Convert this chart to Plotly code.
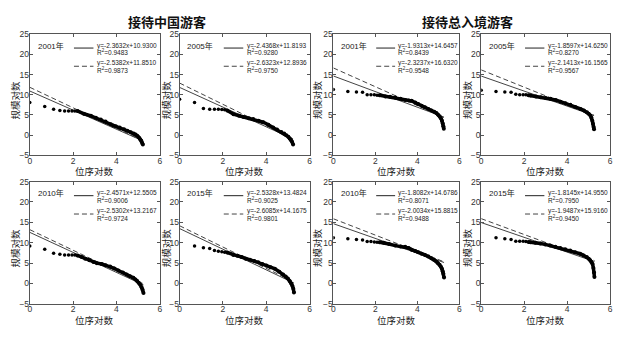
import plotly.graph_objects as go
from plotly.subplots import make_subplots

# ---------------- data ----------------
titles = ["接待中国游客", "接待总入境游客"]
years = ["2001年", "2005年", "2001年", "2005年", "2010年", "2015年", "2010年", "2015年"]

# sparse leading points (x = 位序对数, y = 规模对数)
p1_sx = [0, 0.69, 1.1, 1.39, 1.61, 1.79, 1.95, 2.08]
p1_sy = [8.1, 7.1, 6.4, 6.1, 6.0, 6.0, 6.0, 6.0]
p1_dx = [2.2, 2.5, 2.82, 3.05, 3.28, 3.5, 3.74, 3.85, 3.97, 4.15, 4.35, 4.5, 4.66, 4.8, 4.89, 4.97, 5.04, 5.1, 5.15, 5.19, 5.22]
p1_dy = [6.0, 5.3, 4.8, 4.3, 3.9, 3.4, 2.7, 2.4, 2.2, 1.9, 1.5, 1.1, 0.7, 0.4, 0.15, -0.2, -0.6, -1.0, -1.4, -1.9, -2.3]

p2_sx = [0, 0.69, 1.1, 1.39, 1.61, 1.79, 1.95, 2.08]
p2_sy = [8.9, 8.1, 6.6, 6.4, 6.4, 6.4, 6.35, 6.3]
p2_dx = [2.2, 2.49, 2.75, 2.95, 3.2, 3.4, 3.65, 3.86, 4.1, 4.32, 4.5, 4.7, 4.83, 4.93, 5.02, 5.08, 5.14, 5.19, 5.24]
p2_dy = [6.1, 5.2, 4.8, 4.5, 4.2, 4.0, 3.6, 3.2, 2.6, 1.9, 1.4, 0.8, 0.4, 0.0, -0.4, -0.8, -1.2, -1.6, -2.3]

p3_sx = [0, 0.69, 1.1, 1.39, 1.61, 1.79, 1.95, 2.08]
p3_sy = [11.3, 10.8, 10.7, 10.6, 10.0, 10.0, 10.0, 9.9]
p3_dx = [2.2, 2.48, 2.7, 2.95, 3.2, 3.42, 3.6, 3.73, 3.9, 4.04, 4.2, 4.36, 4.52, 4.67, 4.8, 4.9, 4.98, 5.06, 5.12, 5.17, 5.21, 5.24, 5.26]
p3_dy = [9.9, 9.6, 9.5, 9.3, 9.0, 8.7, 8.6, 8.5, 8.1, 7.7, 7.3, 6.9, 6.5, 6.1, 5.8, 5.5, 5.1, 4.7, 4.2, 3.6, 2.9, 2.2, 1.6]

p4_sx = [0, 0.69, 1.1, 1.39, 1.61, 1.79, 1.95, 2.08]
p4_sy = [11.1, 10.8, 10.7, 10.6, 10.1, 10.0, 10.0, 10.0]
p4_dx = [2.2, 2.3, 2.55, 2.77, 3.0, 3.23, 3.46, 3.69, 3.92, 4.15, 4.38, 4.62, 4.78, 4.92, 5.0, 5.08, 5.13, 5.17, 5.2, 5.23, 5.25]
p4_dy = [9.9, 9.8, 9.6, 9.4, 9.2, 9.0, 8.7, 8.3, 7.9, 7.5, 7.0, 6.5, 6.1, 5.7, 5.3, 4.9, 4.3, 3.6, 2.8, 2.0, 1.5]

p5_sx = [0, 0.69, 1.1, 1.39, 1.61, 1.79, 1.95, 2.08]
p5_sy = [9.2, 8.4, 7.4, 7.2, 7.0, 7.0, 7.0, 7.0]
p5_dx = [2.2, 2.4, 2.56, 2.75, 2.94, 3.1, 3.32, 3.5, 3.71, 3.9, 4.09, 4.3, 4.47, 4.62, 4.78, 4.88, 4.96, 5.03, 5.1, 5.16, 5.21, 5.25]
p5_dy = [6.9, 6.5, 6.1, 5.7, 5.3, 5.0, 4.8, 4.5, 4.2, 3.7, 3.2, 2.7, 2.2, 1.8, 1.4, 1.0, 0.6, 0.2, -0.3, -0.9, -1.5, -2.3]

p6_sx = [0.69, 1.1, 1.39, 1.61, 1.79, 1.95, 2.08]
p6_sy = [9.2, 8.8, 8.6, 8.1, 7.9, 7.8, 7.7]
p6_dx = [2.2, 2.48, 2.67, 2.86, 3.05, 3.25, 3.45, 3.63, 3.82, 4.01, 4.2, 4.4, 4.6, 4.78, 4.9, 5.0, 5.08, 5.16, 5.21, 5.25, 5.28]
p6_dy = [7.6, 7.0, 6.8, 6.5, 6.1, 5.8, 5.5, 5.2, 4.8, 4.4, 4.0, 3.6, 2.9, 2.2, 1.7, 1.2, 0.6, 0.0, -0.6, -1.3, -2.2]

p7_sx = [0, 0.69, 1.1, 1.39, 1.61, 1.79, 1.95, 2.08]
p7_sy = [11.2, 11.0, 10.8, 10.7, 10.3, 10.3, 10.2, 10.1]
p7_dx = [2.2, 2.4, 2.65, 2.95, 3.2, 3.42, 3.58, 3.73, 3.9, 4.04, 4.2, 4.36, 4.52, 4.67, 4.8, 4.9, 4.98, 5.06, 5.12, 5.17, 5.21, 5.24, 5.27]
p7_dy = [10.1, 10.0, 9.7, 9.3, 9.1, 9.0, 8.7, 8.3, 8.0, 7.7, 7.3, 7.0, 6.6, 6.2, 5.8, 5.4, 5.0, 4.6, 4.1, 3.6, 3.0, 2.4, 1.5]

p8_sx = [0.69, 1.1, 1.39, 1.61, 1.79, 1.95, 2.08]
p8_sy = [11.2, 11.0, 10.8, 10.4, 10.4, 10.4, 10.3]
p8_dx = [2.2, 2.29, 2.52, 2.75, 2.98, 3.21, 3.45, 3.68, 3.91, 4.14, 4.37, 4.6, 4.76, 4.91, 5.0, 5.07, 5.13, 5.18, 5.22, 5.25, 5.27]
p8_dy = [10.2, 10.1, 10.0, 9.8, 9.6, 9.3, 9.0, 8.7, 8.4, 8.1, 7.7, 7.3, 6.9, 6.5, 6.1, 5.7, 5.3, 4.8, 3.8, 2.7, 1.6]

# regression fits: (slope, intercept, R2) solid, dashed
fit_solid = [(-2.3632, 10.9300, 0.9483), (-2.4368, 11.8193, 0.9280), (-1.9313, 14.6457, 0.8439), (-1.8597, 14.6250, 0.8270),
             (-2.4571, 12.5505, 0.9006), (-2.5328, 13.4824, 0.9025), (-1.8082, 14.6786, 0.8071), (-1.8145, 14.9550, 0.7950)]
fit_dash = [(-2.5382, 11.8510, 0.9873), (-2.6323, 12.8936, 0.9750), (-2.3237, 16.6320, 0.9548), (-2.1413, 16.1565, 0.9567),
            (-2.5302, 13.2167, 0.9724), (-2.6085, 14.1675, 0.9801), (-2.0034, 15.8815, 0.9488), (-1.9487, 15.9160, 0.9450)]

x_ticks = [0, 2, 4, 6]
y_ticks = [-5, 0, 5, 10, 15, 20, 25]

panels = [(p1_sx, p1_sy, p1_dx, p1_dy), (p2_sx, p2_sy, p2_dx, p2_dy), (p3_sx, p3_sy, p3_dx, p3_dy), (p4_sx, p4_sy, p4_dx, p4_dy),
          (p5_sx, p5_sy, p5_dx, p5_dy), (p6_sx, p6_sy, p6_dx, p6_dy), (p7_sx, p7_sy, p7_dx, p7_dy), (p8_sx, p8_sy, p8_dx, p8_dy)]

# ---------------- layout geometry (pixels) ----------------
W, H = 633, 338
col_px = [(28, 159), (179, 310), (334, 461), (483, 613)]
row_px = [(30, 155), (182, 308)]
ytitle_x = [13, 165, 317, 468]

FONT = "Liberation Sans, Arial, Noto Sans CJK SC, sans-serif"
CJK = "Noto Sans CJK SC, sans-serif"
DASH = "5px,3px"

fig = make_subplots(rows=2, cols=4)

ann = []
shapes = []
for i, (sx, sy, dx, dy) in enumerate(panels):
    r, c = divmod(i, 4)
    n = i + 1
    xa = "x" if n == 1 else f"x{n}"
    ya = "y" if n == 1 else f"y{n}"
    xend = max(dx)
    for (a, b, _), dash in ((fit_solid[i], "solid"), (fit_dash[i], DASH)):
        fig.add_trace(go.Scatter(x=[0, xend], y=[b, b + a * xend], mode="lines",
                                 line=dict(color="#444", width=1, dash=dash),
                                 showlegend=False, hoverinfo="skip"), row=r + 1, col=c + 1)
    fig.add_trace(go.Scatter(x=dx, y=dy, mode="lines+markers",
                             line=dict(color="black", width=3.5),
                             marker=dict(color="black", size=4),
                             showlegend=False), row=r + 1, col=c + 1)
    fig.add_trace(go.Scatter(x=sx, y=sy, mode="markers",
                             marker=dict(color="black", size=3.5, symbol="circle"),
                             showlegend=False), row=r + 1, col=c + 1)

    x0, x1 = col_px[c]
    y0, y1 = row_px[r]
    fig.update_xaxes(domain=[x0 / W, x1 / W], row=r + 1, col=c + 1)
    fig.update_yaxes(domain=[1 - y1 / H, 1 - y0 / H], row=r + 1, col=c + 1)

    xd = f"{xa} domain"
    yd = f"{ya} domain"
    # year label
    ann.append(dict(x=0.045, y=0.905, xref=xd, yref=yd, text=years[i], showarrow=False,
                    xanchor="left", yanchor="middle", font=dict(size=8, color="#222", family=FONT)))
    # legend entries
    a, b, r2 = fit_solid[i]
    shapes.append(dict(type="line", xref=xd, yref=yd, x0=0.34, x1=0.49, y0=0.885, y1=0.885,
                       line=dict(color="#222", width=1)))
    ann.append(dict(x=0.5, y=0.905, xref=xd, yref=yd, text=f"y={a:.4f}x+{b:.4f}", showarrow=False,
                    xanchor="left", yanchor="middle", font=dict(size=6.5, color="#222", family=FONT)))
    ann.append(dict(x=0.5, y=0.85, xref=xd, yref=yd, text=f"R<sup>2</sup>={r2:.4f}", showarrow=False,
                    xanchor="left", yanchor="middle", font=dict(size=6.5, color="#222", family=FONT)))
    a, b, r2 = fit_dash[i]
    shapes.append(dict(type="line", xref=xd, yref=yd, x0=0.34, x1=0.49, y0=0.735, y1=0.735,
                       line=dict(color="#444", width=1, dash=DASH)))
    ann.append(dict(x=0.5, y=0.76, xref=xd, yref=yd, text=f"y={a:.4f}x+{b:.4f}", showarrow=False,
                    xanchor="left", yanchor="middle", font=dict(size=6.5, color="#222", family=FONT)))
    ann.append(dict(x=0.5, y=0.705, xref=xd, yref=yd, text=f"R<sup>2</sup>={r2:.4f}", showarrow=False,
                    xanchor="left", yanchor="middle", font=dict(size=6.5, color="#222", family=FONT)))
    # axis titles
    ann.append(dict(x=((x0 + x1) / 2) / W, y=1 - (y1 + 16.5) / H, xref="paper", yref="paper",
                    text="位序对数", showarrow=False, xanchor="center", yanchor="middle",
                    font=dict(size=9.5, color="#222", family=CJK)))
    ann.append(dict(x=ytitle_x[c] / W, y=1 - ((y0 + y1) / 2 + 5) / H, xref="paper", yref="paper",
                    text="规模对数", showarrow=False, textangle=-90, xanchor="center", yanchor="middle",
                    font=dict(size=9.5, color="#222", family=CJK)))

ann.append(dict(x=166 / W, y=1 - 17 / H, xref="paper", yref="paper", text="<b>" + titles[0] + "</b>",
                showarrow=False, xanchor="center", yanchor="middle", font=dict(size=13, color="#111", family=CJK)))
ann.append(dict(x=469 / W, y=1 - 17 / H, xref="paper", yref="paper", text="<b>" + titles[1] + "</b>",
                showarrow=False, xanchor="center", yanchor="middle", font=dict(size=13, color="#111", family=CJK)))

fig.update_xaxes(range=[0, 6], tickvals=x_ticks, ticks="inside", ticklen=3, tickcolor="#555",
                 showline=True, linecolor="#555", linewidth=1, mirror="allticks", showgrid=False,
                 zeroline=False, tickfont=dict(size=8.5, color="#333", family=FONT), fixedrange=True,
                 ticklabelstandoff=-3)
fig.update_yaxes(range=[-5, 25], tickvals=y_ticks, ticks="inside", ticklen=3, tickcolor="#555",
                 showline=True, linecolor="#555", linewidth=1, mirror="allticks", showgrid=False,
                 zeroline=False, tickfont=dict(size=8.5, color="#333", family=FONT), fixedrange=True,
                 ticklabelstandoff=-2)

fig.update_layout(width=W, height=H, margin=dict(l=0, r=0, t=0, b=0),
                  paper_bgcolor="white", plot_bgcolor="white",
                  annotations=ann, shapes=shapes, showlegend=False)

fig.write_html("out.html")
